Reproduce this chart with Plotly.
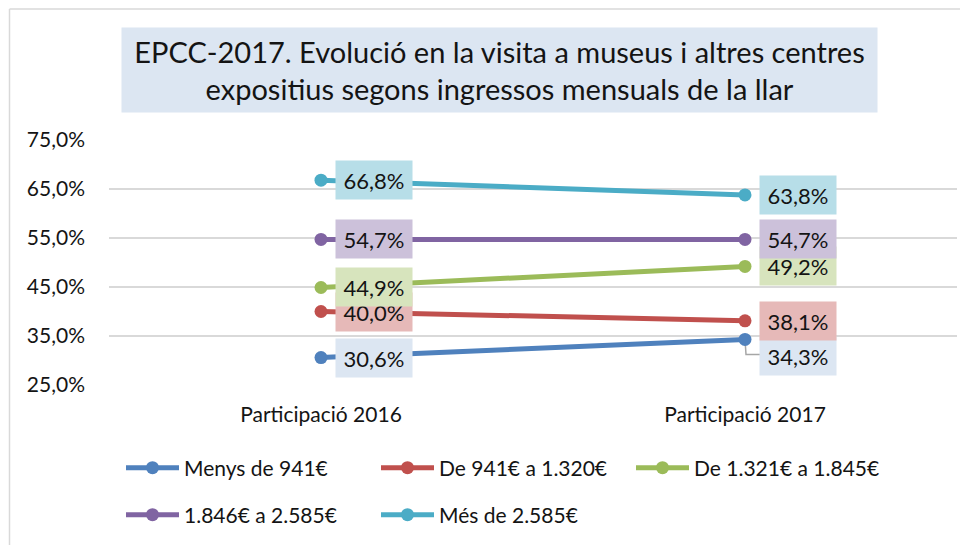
import plotly.graph_objects as go

categories = ["Participació 2016", "Participació 2017"]
series_names = ["Menys de 941€", "De 941€ a 1.320€", "De 1.321€ a 1.845€",
                "1.846€ a 2.585€", "Més de 2.585€"]
menys_941 = [30.6, 34.3]
de_941_1320 = [40.0, 38.1]
de_1321_1845 = [44.9, 49.2]
de_1846_2585 = [54.7, 54.7]
mes_2585 = [66.8, 63.8]
y_ticks = [25, 35, 45, 55, 65, 75]
y_tick_labels = ["25,0%", "35,0%", "45,0%", "55,0%", "65,0%", "75,0%"]

series_values = [menys_941, de_941_1320, de_1321_1845, de_1846_2585, mes_2585]
line_colors = ["#4F81BD", "#C0504D", "#9BBB59", "#8064A2", "#4BACC6"]
box_colors = ["#DCE6F2", "#E6B9B8", "#D7E4BD", "#CCC1DA", "#B7DEE8"]
legend_ids = ["legend", "legend", "legend", "legend2", "legend2"]
label_yshift = [[0, -17], [0, 0], [0, 0], [0, 0], [0, 0]]

FONT = "Lato"
TXT = "#141414"

# page has an 8px body margin; work in page pixel coordinates
OFF = 8
W, H = 968 - OFF, 545 - OFF
PL, PR, PT, PB = 109, 957, 140, 385          # plot area in page pixels
L, T = PL - OFF, PT - OFF
R, B = W - (PR - OFF), H - (PB - OFF)
PW, PH = PR - PL, PB - PT

def px_x(p):
    return (p - PL) / PW

def px_y(p):
    return (PB - p) / PH

fig = go.Figure()
for name, vals, col, lg in zip(series_names, series_values, line_colors, legend_ids):
    fig.add_trace(go.Scatter(
        x=categories, y=vals, name=name, mode="lines+markers",
        line=dict(color=col, width=5),
        marker=dict(color=col, size=13),
        legend=lg, hoverinfo="skip",
    ))

annotations = []
for vals, bc, shifts in zip(series_values, box_colors, label_yshift):
    for cat, v, ys in zip(categories, vals, shifts):
        annotations.append(dict(
            x=cat, y=v, xref="x", yref="y", showarrow=False,
            text=f"{v:.1f}%".replace(".", ","),
            xshift=53, yshift=ys, bgcolor=bc, width=72, height=34, borderpad=2,
            font=dict(family=FONT, size=22, color=TXT),
        ))

annotations.append(dict(
    x=px_x(499.5), y=px_y(70), xref="paper", yref="paper", showarrow=False,
    text="EPCC-2017. Evolució en la visita a museus i altres centres<br>expositius segons ingressos mensuals de la llar",
    bgcolor="#DCE6F2", width=751, height=80, borderpad=2,
    font=dict(family=FONT, size=29, color=TXT),
    xanchor="center", yanchor="middle",
))

shapes = [
    dict(type="path", xref="x", yref="y", xsizemode="pixel", ysizemode="pixel",
         xanchor=categories[1], yanchor=menys_941[1],
         path="M0,0 L1,-15 L15,-15", line=dict(color="#A6A6A6", width=1.5),
         layer="between"),
    dict(type="line", xref="paper", yref="paper",
         x0=px_x(9.5), x1=px_x(9.5), y0=px_y(9), y1=px_y(560),
         line=dict(color="#D9D9D9", width=1.5)),
    dict(type="line", xref="paper", yref="paper",
         x0=px_x(9.5), x1=px_x(980), y0=px_y(9), y1=px_y(9),
         line=dict(color="#D9D9D9", width=1.5)),
]

legend_common = dict(orientation="h", xanchor="left", yanchor="middle",
                     entrywidth=187, entrywidthmode="pixels",
                     font=dict(size=21, family=FONT, color=TXT),
                     itemwidth=53, tracegroupgap=0, bgcolor="rgba(0,0,0,0)")

fig.update_layout(
    width=W, height=H,
    margin=dict(l=L, r=R, t=T, b=B, autoexpand=False),
    paper_bgcolor="white", plot_bgcolor="white",
    font=dict(family=FONT, size=18, color=TXT),
    showlegend=True,
    annotations=annotations,
    shapes=shapes,
    legend=dict(x=px_x(121), y=px_y(468), **legend_common),
    legend2=dict(x=px_x(121), y=px_y(515), **legend_common),
)
fig.update_xaxes(type="category", range=[-0.5, 1.5], showgrid=False, showline=False,
                 zeroline=False, ticks="", automargin=False,
                 tickfont=dict(size=21, family=FONT, color=TXT),
                 ticklabelstandoff=15)
fig.update_yaxes(range=[25, 75], tickvals=y_ticks, ticktext=y_tick_labels,
                 showgrid=True, gridcolor="#D9D9D9", gridwidth=2, automargin=False,
                 zeroline=False, showline=False, ticks="",
                 tickfont=dict(size=21, family=FONT, color=TXT),
                 ticklabelstandoff=23)

fig.write_html("out.html")
